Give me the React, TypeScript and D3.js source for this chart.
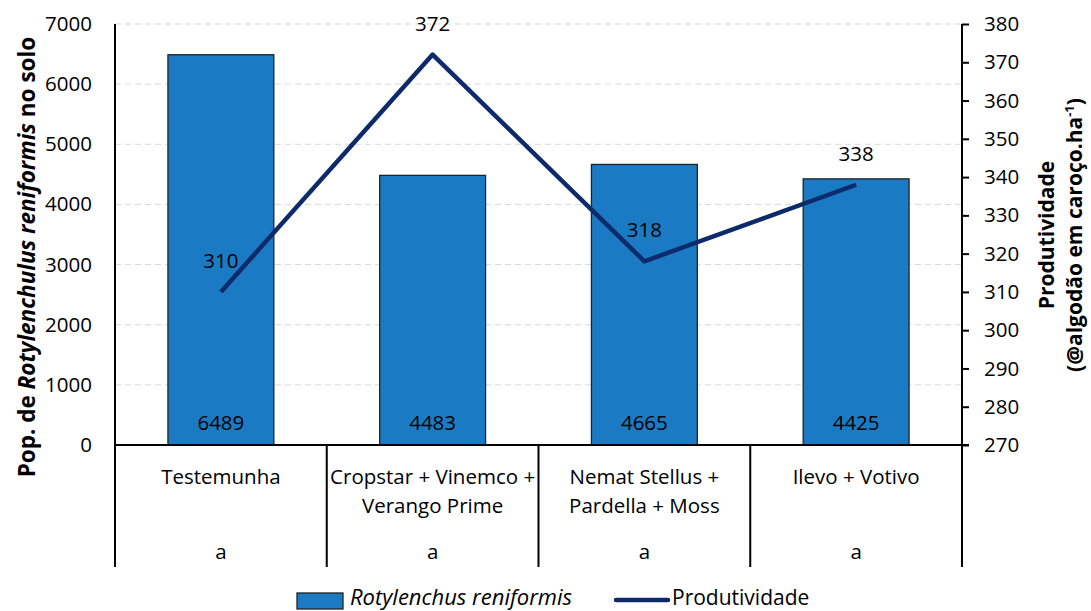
import { useEffect, useRef } from 'react'
import * as d3 from 'd3'

const categories = ['Testemunha', 'Cropstar + Vinemco + Verango Prime', 'Nemat Stellus + Pardella + Moss', 'Ilevo + Votivo']
const categoryLines = [['Testemunha'], ['Cropstar + Vinemco +', 'Verango Prime'], ['Nemat Stellus +', 'Pardella + Moss'], ['Ilevo + Votivo']]
const letters = ['a', 'a', 'a', 'a']
const population = [6489, 4483, 4665, 4425]
const yieldValues = [310, 372, 318, 338]
const leftTicks = [0, 1000, 2000, 3000, 4000, 5000, 6000, 7000]
const rightTicks = [270, 280, 290, 300, 310, 320, 330, 340, 350, 360, 370, 380]

const W = 1091
const H = 611
const FONT = '"Open Sans", sans-serif'
const FS = '20.5px'

export default function App() {
  const svgRef = useRef<SVGSVGElement>(null)

  useEffect(() => {
    const svg = d3.select(svgRef.current)
    svg.selectAll('*').remove()

    const left = 115
    const right = 962
    const top = 24
    const bottom = 445
    const catBottom = 567

    const x = d3.scaleBand<string>().domain(categories).range([left, right]).paddingInner(0.5).paddingOuter(0.25)
    const yL = d3.scaleLinear().domain([0, 7000]).range([bottom, top])
    const yR = d3.scaleLinear().domain([270, 380]).range([bottom, top])

    // dashed grid
    svg.append('g')
      .selectAll('line')
      .data(leftTicks.filter(d => d > 0))
      .join('line')
      .attr('x1', left).attr('x2', right)
      .attr('y1', d => yL(d)).attr('y2', d => yL(d))
      .attr('stroke', '#d9d9d9')
      .attr('stroke-width', 1)
      .attr('stroke-dasharray', '6,4')

    // bars
    svg.append('g')
      .selectAll('rect')
      .data(population)
      .join('rect')
      .attr('x', (_, i) => x(categories[i])!)
      .attr('y', d => yL(d))
      .attr('width', x.bandwidth())
      .attr('height', d => bottom - yL(d))
      .attr('fill', '#1a7bc4')
      .attr('stroke', '#222')
      .attr('stroke-width', 1.3)

    // bar value labels
    svg.append('g')
      .selectAll('text')
      .data(population)
      .join('text')
      .attr('x', (_, i) => x(categories[i])! + x.bandwidth() / 2)
      .attr('y', bottom - 23)
      .attr('text-anchor', 'middle')
      .attr('dominant-baseline', 'central')
      .style('font-family', FONT)
      .style('font-size', FS)
      .attr('fill', '#000')
      .text(d => d)

    // left axis
    const gl = svg.append('g')
      .attr('transform', `translate(${left},0)`)
      .call(d3.axisLeft(yL).tickValues(leftTicks).tickFormat(d3.format('d')).tickSize(0).tickPadding(23))
    gl.select('.domain').remove()
    gl.selectAll('text').style('font-family', FONT).style('font-size', FS).attr('fill', '#000')

    // right axis
    const gr = svg.append('g')
      .attr('transform', `translate(${right},0)`)
      .call(d3.axisRight(yR).tickValues(rightTicks).tickSize(7).tickPadding(15))
    gr.select('.domain').remove()
    gr.selectAll('line').attr('stroke', '#000').attr('stroke-width', 2)
    gr.selectAll('text').style('font-family', FONT).style('font-size', FS).attr('fill', '#000')

    // axis lines and category frame
    const frame = svg.append('g').attr('stroke', '#000').attr('stroke-width', 2)
    frame.append('line').attr('x1', left).attr('x2', left).attr('y1', top).attr('y2', catBottom)
    frame.append('line').attr('x1', right).attr('x2', right).attr('y1', top).attr('y2', catBottom)
    frame.append('line').attr('x1', left).attr('x2', right + 7).attr('y1', bottom).attr('y2', bottom)
    frame.selectAll('.sep')
      .data(categories.slice(1))
      .join('line')
      .attr('class', 'sep')
      .attr('x1', d => x(d)! - x.step() * 0.25)
      .attr('x2', d => x(d)! - x.step() * 0.25)
      .attr('y1', bottom).attr('y2', catBottom)

    // category labels
    const cats = svg.append('g')
    categoryLines.forEach((lines, i) => {
      const cx = x(categories[i])! + x.bandwidth() / 2
      lines.forEach((t, j) => {
        cats.append('text')
          .attr('x', cx)
          .attr('y', 476 + j * 29)
          .attr('text-anchor', 'middle')
          .attr('dominant-baseline', 'central')
          .style('font-family', FONT)
          .style('font-size', FS)
          .text(t)
      })
      cats.append('text')
        .attr('x', cx)
        .attr('y', 551)
        .attr('text-anchor', 'middle')
        .attr('dominant-baseline', 'central')
        .style('font-family', FONT)
        .style('font-size', FS)
        .text(letters[i])
    })

    // yield line
    const line = d3.line<number>()
      .x((_, i) => x(categories[i])! + x.bandwidth() / 2)
      .y(d => yR(d))
    svg.append('path')
      .datum(yieldValues)
      .attr('d', line)
      .attr('fill', 'none')
      .attr('stroke', '#0d2a6b')
      .attr('stroke-width', 4.5)
      .attr('stroke-linejoin', 'round')

    svg.append('g')
      .selectAll('text')
      .data(yieldValues)
      .join('text')
      .attr('x', (_, i) => x(categories[i])! + x.bandwidth() / 2)
      .attr('y', d => yR(d) - 32)
      .attr('text-anchor', 'middle')
      .attr('dominant-baseline', 'central')
      .style('font-family', FONT)
      .style('font-size', FS)
      .text(d => d)

    // left axis title
    const lt = svg.append('text')
      .attr('transform', 'translate(35,257) rotate(-90)')
      .attr('text-anchor', 'middle')
      .style('font-family', FONT)
      .style('font-size', '22.5px')
      .style('font-weight', 'bold')
    lt.append('tspan').text('Pop. de ')
    lt.append('tspan').style('font-style', 'italic').text('Rotylenchulus reniformis')
    lt.append('tspan').text(' no solo')

    // right axis title
    const rt = svg.append('text')
      .attr('transform', 'translate(1054,235) rotate(-90)')
      .attr('text-anchor', 'middle')
      .style('font-family', FONT)
      .style('font-size', '21px')
      .style('font-weight', 'bold')
    rt.append('tspan').attr('x', 0).attr('dy', 0).text('Produtividade')
    const t2 = rt.append('tspan').attr('x', 0).attr('dy', 28)
    t2.append('tspan').text('(@algodão em caroço.ha')
    t2.append('tspan').attr('dy', -8).style('font-size', '13px').text('-1')
    t2.append('tspan').attr('dy', 8).text(')')

    // legend
    const lg = svg.append('g')
    lg.append('rect')
      .attr('x', 297).attr('y', 593).attr('width', 46).attr('height', 16)
      .attr('fill', '#1a7bc4').attr('stroke', '#222').attr('stroke-width', 1.3)
    lg.append('text')
      .attr('x', 350).attr('y', 605)
      .style('font-family', FONT).style('font-size', '22px').style('font-style', 'italic')
      .text('Rotylenchus reniformis')
    lg.append('line')
      .attr('x1', 616).attr('x2', 668).attr('y1', 600).attr('y2', 600)
      .attr('stroke', '#0d2a6b').attr('stroke-width', 4.5).attr('stroke-linecap', 'round')
    lg.append('text')
      .attr('x', 672).attr('y', 605)
      .style('font-family', FONT).style('font-size', '21px')
      .text('Produtividade')
  }, [])

  return (
    <div style={{ position: 'fixed', left: 0, top: 0, background: '#fff' }}>
      <svg ref={svgRef} width={W} height={H} style={{ display: 'block' }} />
    </div>
  )
}
